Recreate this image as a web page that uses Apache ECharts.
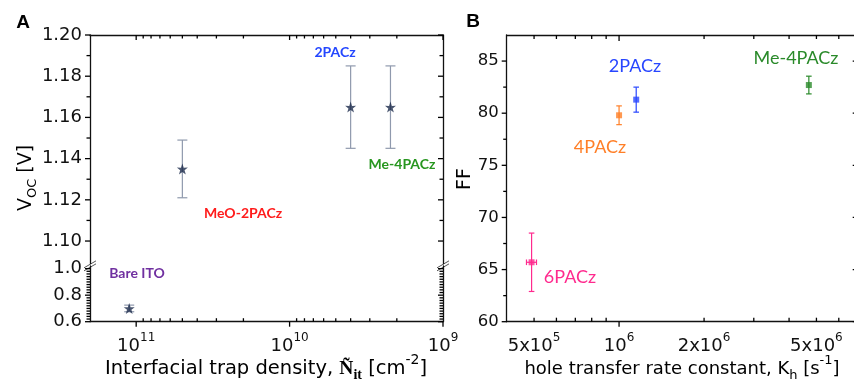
<!DOCTYPE html>
<html>
<head>
<meta charset="utf-8">
<script src="https://cdn.jsdelivr.net/npm/echarts@6/dist/echarts.min.js"></script>
<style>
  html, body { margin: 0; padding: 0; background: #fff; }
  #chart { width: 854px; height: 380px; }
</style>
</head>
<body>
<div id="chart"></div>
<script>
// ---- Panel A: open-circuit voltage vs. interfacial trap density ----
const samplesA = ['Bare ITO', 'MeO-2PACz', '2PACz', 'Me-4PACz'];
const trapDensity = [1.11e11, 5.0e10, 4.0e9, 2.2e9];
const voc = [0.70, 1.135, 1.165, 1.165];
const vocErr = [0.025, 0.014, 0.02, 0.02];

// y tick values: upper segment and lower segment of the broken axis
const vocTicksUpper = [1.10, 1.12, 1.14, 1.16, 1.18, 1.20];
const vocMinorUpper = [1.11, 1.13, 1.15, 1.17, 1.19];
const vocTicksLower = [0.6, 0.8, 1.0];
const vocMinorLower = [0.62, 0.64, 0.66, 0.68, 0.70, 0.72, 0.74, 0.76, 0.78,
                       0.82, 0.84, 0.86, 0.88, 0.90, 0.92, 0.94, 0.96, 0.98];
const trapTicks = [1e9, 1e10, 1e11];
const trapMinor = [2e9, 3e9, 4e9, 5e9, 6e9, 7e9, 8e9, 9e9,
                   2e10, 3e10, 4e10, 5e10, 6e10, 7e10, 8e10, 9e10];

// ---- Panel B: fill factor vs. hole transfer rate constant ----
const samplesB = ['6PACz', '4PACz', '2PACz', 'Me-4PACz'];
const rateConst = [4.9e5, 1.0e6, 1.15e6, 4.7e6];
const rateErr = [0.2e5, 0, 0, 0];
const fillFactor = [65.7, 79.8, 81.3, 82.7];
const ffErr = [2.8, 0.9, 1.2, 0.85];

const ffTicks = [60, 65, 70, 75, 80, 85];
const ffMinor = [62.5, 67.5, 72.5, 77.5, 82.5];
const rateLabelTicks = [5e5, 1e6, 2e6, 5e6];
const rateMajor = [1e6];
const rateMinor = [5e5, 6e5, 7e5, 8e5, 9e5, 2e6, 3e6, 4e6, 5e6, 6e6];

const colorsB = ['#ff2a8e', '#ff7f27', '#2846ff', '#2a8a2a'];
const starColor = '#1b2b4b';
const errColorA = '#8f99ad';

const tickFont = 'DejaVu Sans, sans-serif';
const noteFont = 'Lato, sans-serif';
const axisColor = '#111';

const starPath = 'path://M50,0 L61.8,35.1 L97.6,34.5 L69,56.2 L79.4,90.5 L50,70 L20.6,90.5 L31,56.2 L2.4,34.5 L38.2,35.1 Z';

// axis ranges
const trapRange = [1e9, 2e11];
const vocUpperRange = [1.089, 1.2];
const vocLowerRange = [0.6, 1.02];
const rateRange = [4e5, 7e6];
const ffRange = [60, 87.5];

function supLabel(v) {
  const e = Math.floor(Math.log10(v) + 1e-9);
  const m = Math.round(v / Math.pow(10, e));
  return (m === 1 ? '' : '{b|' + m + 'x}') + '{b|10}{s|' + e + '}';
}
const supRich = {
  b: { fontSize: 18, fontFamily: tickFont, color: '#111', lineHeight: 24, verticalAlign: 'bottom' },
  s: { fontSize: 12, fontFamily: tickFont, color: '#111', lineHeight: 12, verticalAlign: 'top' }
};

const lineStyle = { color: axisColor, width: 1.3 };
function logX(grid, pos, range, opts) {
  return Object.assign({
    type: 'log', gridIndex: grid, position: pos, logBase: 10, min: range[0], max: range[1],
    splitLine: { show: false },
    axisLine: { show: true, onZero: false, lineStyle },
    axisLabel: { show: false },
    axisTick: { show: false }
  }, opts);
}
function valY(grid, pos, range, opts) {
  return Object.assign({
    type: 'value', gridIndex: grid, position: pos, min: range[0], max: range[1],
    splitLine: { show: false },
    axisLine: { show: true, onZero: false, lineStyle },
    axisLabel: { show: false },
    axisTick: { show: false }
  }, opts);
}

const xAxes = [
  // 0: panel A upper segment, top spine
  logX(0, 'top', trapRange, { inverse: true }),
  // 1: panel A lower segment, bottom axis with labels
  logX(1, 'bottom', trapRange, {
    inverse: true,
    axisLabel: { show: true, customValues: trapTicks, margin: 10, formatter: supLabel, rich: supRich }
  }),
  // 2: panel B bottom axis with labels
  logX(2, 'bottom', rateRange, {
    axisLabel: { show: true, customValues: rateLabelTicks, margin: 10, formatter: supLabel, rich: supRich }
  }),
  // 3: panel B top spine
  logX(2, 'top', rateRange, {})
];

const yLabel = (digits, size, values) => ({
  show: true, margin: 8, fontSize: size, fontFamily: tickFont, color: '#111',
  customValues: values,
  formatter: v => Number(v).toFixed(digits)
});

const yAxes = [
  valY(0, 'left', vocUpperRange, { axisLabel: yLabel(2, 18, vocTicksUpper) }),   // 0
  valY(0, 'right', vocUpperRange, {}),                                          // 1
  valY(1, 'left', vocLowerRange, { axisLabel: yLabel(1, 18, vocTicksLower) }),   // 2
  valY(1, 'right', vocLowerRange, {}),                                          // 3
  valY(2, 'left', ffRange, { axisLabel: yLabel(0, 16.5, ffTicks) }),             // 4
  valY(2, 'right', ffRange, {})                                                 // 5
];

// error bars: value = [x, y, yErr, xErr, colourIndex]
function makeErrorRender(colorFn, capHalf) {
  return function (params, api) {
    const x = api.value(0), y = api.value(1), ey = api.value(2), ex = api.value(3);
    const col = colorFn(api.value(4));
    const top = api.coord([x, y + ey]);
    const bot = api.coord([x, y - ey]);
    const style = { stroke: col, lineWidth: 1.2 };
    const kids = [
      { type: 'line', shape: { x1: top[0], y1: top[1], x2: bot[0], y2: bot[1] }, style },
      { type: 'line', shape: { x1: top[0] - capHalf, y1: top[1], x2: top[0] + capHalf, y2: top[1] }, style },
      { type: 'line', shape: { x1: bot[0] - capHalf, y1: bot[1], x2: bot[0] + capHalf, y2: bot[1] }, style }
    ];
    if (ex > 0) {
      const l = api.coord([x - ex, y]);
      const r = api.coord([x + ex, y]);
      kids.push({ type: 'line', shape: { x1: l[0], y1: l[1], x2: r[0], y2: r[1] }, style });
      kids.push({ type: 'line', shape: { x1: l[0], y1: l[1] - capHalf, x2: l[0], y2: l[1] + capHalf }, style });
      kids.push({ type: 'line', shape: { x1: r[0], y1: r[1] - capHalf, x2: r[0], y2: r[1] + capHalf }, style });
    }
    return { type: 'group', children: kids };
  };
}

const upperIdx = voc.map((v, i) => i).filter(i => voc[i] > vocLowerRange[1]);
const lowerIdx = voc.map((v, i) => i).filter(i => voc[i] <= vocLowerRange[1]);
const errA = idx => idx.map(i => [trapDensity[i], voc[i], vocErr[i], 0, 0]);
const ptsA = idx => idx.map(i => ({ name: samplesA[i], value: [trapDensity[i], voc[i]] }));
const errB = samplesB.map((n, i) => [rateConst[i], fillFactor[i], ffErr[i], rateErr[i], i]);
const ptsB = samplesB.map((n, i) => ({ name: n, value: [rateConst[i], fillFactor[i]], itemStyle: { color: colorsB[i] } }));

const series = [
  { type: 'custom', xAxisIndex: 0, yAxisIndex: 0, renderItem: makeErrorRender(() => errColorA, 5), data: errA(upperIdx), silent: true, z: 2 },
  { type: 'custom', xAxisIndex: 1, yAxisIndex: 2, renderItem: makeErrorRender(() => errColorA, 5), data: errA(lowerIdx), silent: true, z: 2 },
  { type: 'scatter', xAxisIndex: 0, yAxisIndex: 0, symbol: starPath, symbolSize: 11, itemStyle: { color: starColor }, data: ptsA(upperIdx), z: 3 },
  { type: 'scatter', xAxisIndex: 1, yAxisIndex: 2, symbol: starPath, symbolSize: 11, itemStyle: { color: starColor }, data: ptsA(lowerIdx), z: 3 },
  { type: 'custom', xAxisIndex: 2, yAxisIndex: 4, renderItem: makeErrorRender(i => colorsB[i], 2.8), data: errB, silent: true, z: 2, itemStyle: { opacity: 0.75 } },
  { type: 'scatter', xAxisIndex: 2, yAxisIndex: 4, symbol: 'rect', symbolSize: 6, data: ptsB, z: 3 }
];

// axis-break marks drawn across the left and right spines of panel A
function breakMark(x, y) {
  return {
    type: 'group', x: x, y: y, z: 100,
    children: [
      { type: 'polygon', shape: { points: [[-6, 3], [6, -4], [6, -1], [-6, 6]] }, style: { fill: '#fff' } },
      { type: 'line', shape: { x1: -6, y1: 3, x2: 6, y2: -4 }, style: { stroke: '#555', lineWidth: 1 } },
      { type: 'line', shape: { x1: -6, y1: 6, x2: 6, y2: -1 }, style: { stroke: '#555', lineWidth: 1 } }
    ]
  };
}

function label(text, x, y, color, size, weight) {
  return { type: 'text', x: x, y: y, z: 50,
    style: { text: text, fill: color, font: (weight || 'normal') + ' ' + size + 'px ' + noteFont, textAlign: 'center', textVerticalAlign: 'middle' } };
}

function titleRich(size) {
  const sub = Math.round(size * 0.7);
  return {
    m: { fontSize: size, fontFamily: tickFont, color: '#111', lineHeight: size + 6, verticalAlign: 'bottom' },
    sub: { fontSize: sub, fontFamily: tickFont, color: '#111', lineHeight: sub + 4, verticalAlign: 'bottom', padding: [0, 0, -4, 0] },
    sup: { fontSize: sub, fontFamily: tickFont, color: '#111', lineHeight: sub, verticalAlign: 'top' },
    nt: { fontSize: size, fontFamily: 'Liberation Serif, serif', fontWeight: 'bold', color: '#111', lineHeight: size + 6, verticalAlign: 'bottom' },
    ntsub: { fontSize: sub, fontFamily: 'Liberation Serif, serif', fontWeight: 'bold', color: '#111', lineHeight: sub + 4, verticalAlign: 'bottom', padding: [0, 0, -4, 0] }
  };
}
function richText(text, x, y, size, rotation) {
  return { type: 'text', x: x, y: y, rotation: rotation || 0, z: 50,
    style: { text: text, rich: titleRich(size), textAlign: 'center', textVerticalAlign: 'middle' } };
}

const graphics = [
  { type: 'text', x: 23, y: 23, style: { text: 'A', font: 'bold 19px Liberation Sans, Arial, sans-serif', fill: '#000', textAlign: 'center', textVerticalAlign: 'middle' } },
  { type: 'text', x: 473, y: 22, style: { text: 'B', font: 'bold 19px Liberation Sans, Arial, sans-serif', fill: '#000', textAlign: 'center', textVerticalAlign: 'middle' } },
  richText('{m|V}{sub|OC}{m| [V]}', 23, 178, 19, Math.PI / 2),
  richText('{m|FF}', 462, 179, 19, Math.PI / 2),
  richText('{m|Interfacial trap density, }{nt|Ñ}{ntsub|it}{m| [cm}{sup|-2}{m|]}', 266, 366, 19.5, 0),
  richText('{m|hole transfer rate constant, K}{sub|h}{m| [s}{sup|-1}{m|]}', 682, 366, 18, 0),
  // sample names, panel A
  label('2PACz', 335, 52, '#2447ff', 14, 'bold'),
  label('Me-4PACz', 402, 164, '#27961f', 14, 'bold'),
  label('MeO-2PACz', 243, 213, '#ff1c1c', 14, 'bold'),
  label('Bare ITO', 137, 273, '#7030a0', 14, 'bold'),
  // sample names, panel B
  label('2PACz', 635, 66, '#2846ff', 18),
  label('Me-4PACz', 796, 58, '#2a8a2a', 18),
  label('4PACz', 600, 147, '#ff7f27', 18),
  label('6PACz', 570, 277, '#ff2a8e', 18)
];

const chart = echarts.init(document.getElementById('chart'), null, { renderer: 'canvas' });
chart.setOption({
  animation: false,
  backgroundColor: '#fff',
  grid: [
    { left: 90, top: 35, width: 353, height: 228.7, outerBoundsMode: 'none' },
    { left: 90, top: 266, width: 353, height: 55.7, outerBoundsMode: 'none' },
    { left: 506.7, top: 35, width: 351, height: 286.7, outerBoundsMode: 'none' }
  ],
  xAxis: xAxes,
  yAxis: yAxes,
  series: series
});

// ---- tick marks, positioned through the axes' own scales ----
const toX = (i, v) => chart.convertToPixel({ xAxisIndex: i }, v);
const toY = (i, v) => chart.convertToPixel({ yAxisIndex: i }, v);

// spine rectangle of a grid, from its x axis (xi) and y axis (yi) ranges
function frame(xi, xr, yi, yr) {
  const xa = toX(xi, xr[0]), xb = toX(xi, xr[1]);
  const ya = toY(yi, yr[0]), yb = toY(yi, yr[1]);
  return { left: Math.min(xa, xb), right: Math.max(xa, xb), top: Math.min(ya, yb), bottom: Math.max(ya, yb) };
}
const frames = {
  upper: frame(0, trapRange, 0, vocUpperRange),
  lower: frame(1, trapRange, 2, vocLowerRange),
  b: frame(2, rateRange, 4, ffRange)
};

function ticks(fr, axisKind, axisIdx, edge, values, len, inward) {
  const out = { top: [0, -1], bottom: [0, 1], left: [-1, 0], right: [1, 0] }[edge];
  const k = inward ? -len : len;
  return values.map(v => {
    let x, y;
    if (axisKind === 'x') {
      x = toX(axisIdx, v);
      y = edge === 'top' ? fr.top : fr.bottom;
    } else {
      y = toY(axisIdx, v);
      x = edge === 'left' ? fr.left : fr.right;
    }
    return {
      type: 'line', z: 60, silent: true,
      shape: { x1: x, y1: y, x2: x + out[0] * k, y2: y + out[1] * k },
      style: { stroke: '#000', lineWidth: 1.3 }
    };
  });
}

const tickMarks = [].concat(
  // panel A, upper segment
  ticks(frames.upper, 'x', 0, 'top', trapTicks, 5, true),
  ticks(frames.upper, 'x', 0, 'top', trapMinor, 3.5, true),
  ticks(frames.upper, 'y', 0, 'left', vocTicksUpper, 5, false),
  ticks(frames.upper, 'y', 0, 'left', vocMinorUpper, 3.5, false),
  ticks(frames.upper, 'y', 0, 'right', vocTicksUpper, 5, true),
  ticks(frames.upper, 'y', 0, 'right', vocMinorUpper, 3.5, true),
  // panel A, lower segment
  ticks(frames.lower, 'x', 1, 'bottom', trapTicks, 5, false),
  ticks(frames.lower, 'x', 1, 'bottom', trapMinor, 3.5, true),
  ticks(frames.lower, 'y', 2, 'left', vocTicksLower, 5, false),
  ticks(frames.lower, 'y', 2, 'left', vocMinorLower, 3.5, false),
  ticks(frames.lower, 'y', 2, 'right', vocTicksLower, 5, true),
  ticks(frames.lower, 'y', 2, 'right', vocMinorLower, 3.5, true),
  // panel B
  ticks(frames.b, 'x', 2, 'bottom', rateMajor, 5, false),
  ticks(frames.b, 'x', 2, 'bottom', rateMinor, 4, true),
  ticks(frames.b, 'x', 2, 'top', rateMajor, 6, true),
  ticks(frames.b, 'x', 2, 'top', rateMinor, 4, true),
  ticks(frames.b, 'y', 4, 'left', ffTicks, 5, false),
  ticks(frames.b, 'y', 4, 'left', ffMinor, 3.5, false),
  ticks(frames.b, 'y', 4, 'right', ffTicks, 5, true),
  ticks(frames.b, 'y', 4, 'right', ffMinor, 3.5, true)
);

// break marks sit in the gap between the two segments of panel A
const gapY = (frames.upper.bottom + frames.lower.top) / 2;
const breaks = [breakMark(frames.upper.left, gapY), breakMark(frames.upper.right, gapY)];

chart.setOption({ graphic: graphics.concat(tickMarks, breaks) });
</script>
</body>
</html>
